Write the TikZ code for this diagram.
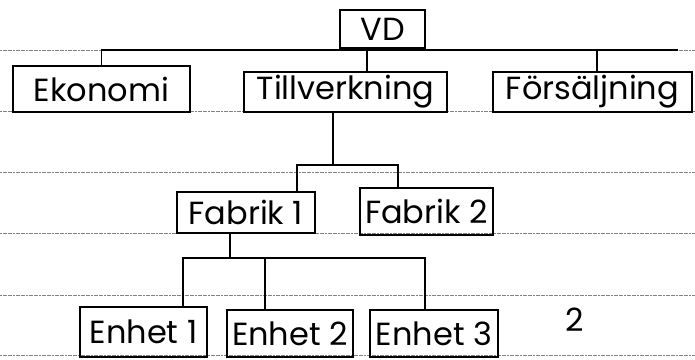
\documentclass[tikz,border=0pt]{standalone}
\usepackage{fontspec}
\setmainfont{Poppins}
\usepackage{xcolor}
\usetikzlibrary{calc}
\definecolor{ruleline}{RGB}{130,130,130}

\begin{document}
\begin{tikzpicture}[x=1pt,y=-1pt,line width=1.9pt,
  font=\fontsize{32}{36}\selectfont,
  b/.style={draw,inner sep=0pt,anchor=center},
  ruled/.style={ruleline,line width=0.6pt,dash pattern=on 2pt off 0.6pt}]
\useasboundingbox (0,0) rectangle (695,359);
\foreach \y in {50,111,172,233,295,355}
  \draw[ruled] (0,\y) -- (695,\y);
\node[b,minimum width=85pt,minimum height=38pt] (vd) at (382.5,29) {VD};
\node[b,minimum width=177pt,minimum height=46pt] (eko) at (101.5,89) {Ekonomi};
\node[b,minimum width=203pt,minimum height=40pt] (till) at (345.5,92) {Tillverkning};
\node[b,minimum width=199pt,minimum height=40pt] (fors) at (592.5,92) {Försäljning};
\node[b,minimum width=138pt,minimum height=41pt] (fab1) at (246,212.5) {Fabrik 1};
\node[b,minimum width=133pt,minimum height=47pt] (fab2) at (426.5,211.5) {Fabrik 2};
\node[b,minimum width=127pt,minimum height=50pt] (enh1) at (143.5,332) {Enhet 1};
\node[b,minimum width=126pt,minimum height=47pt] (enh2) at (290,333.5) {Enhet 2};
\node[b,minimum width=128pt,minimum height=47pt] (enh3) at (434,333.5) {Enhet 3};
\node (nr) at (575,320) {2};
% VD level
\coordinate (vdbar) at (678,50);
\coordinate (tillin) at ([xshift=21.5]till.north);
\coordinate (forsin) at ([xshift=4.5]fors.north);
\draw (eko.north) |- (vdbar);
\draw (vd.south) -- (vd.south |- vdbar);
\draw (tillin) -- (tillin |- vdbar);
\draw (forsin) -- (forsin |- vdbar);
% Fabrik level
\coordinate (fabbar) at (0,165);
\coordinate (tillout) at ([xshift=-12.5]till.south);
\coordinate (fab1in) at ([xshift=51]fab1.north);
\coordinate (fab2in) at ([xshift=-28.5]fab2.north);
\draw (tillout) -- (tillout |- fabbar);
\draw (fab1in) -- (fab1in |- fabbar) -- (fab2in |- fabbar) -- (fab2in);
% Enhet level
\coordinate (enhbar) at (0,258);
\coordinate (fab1out) at ([xshift=-16]fab1.south);
\coordinate (enh1in) at ([xshift=39.5]enh1.north);
\coordinate (enh2in) at ([xshift=-25]enh2.north);
\coordinate (enh3in) at ([xshift=-9]enh3.north);
\draw (fab1out) -- (fab1out |- enhbar);
\draw (enh1in) -- (enh1in |- enhbar) -- (enh3in |- enhbar) -- (enh3in);
\draw (enh2in) -- (enh2in |- enhbar);
\end{tikzpicture}
\end{document}
